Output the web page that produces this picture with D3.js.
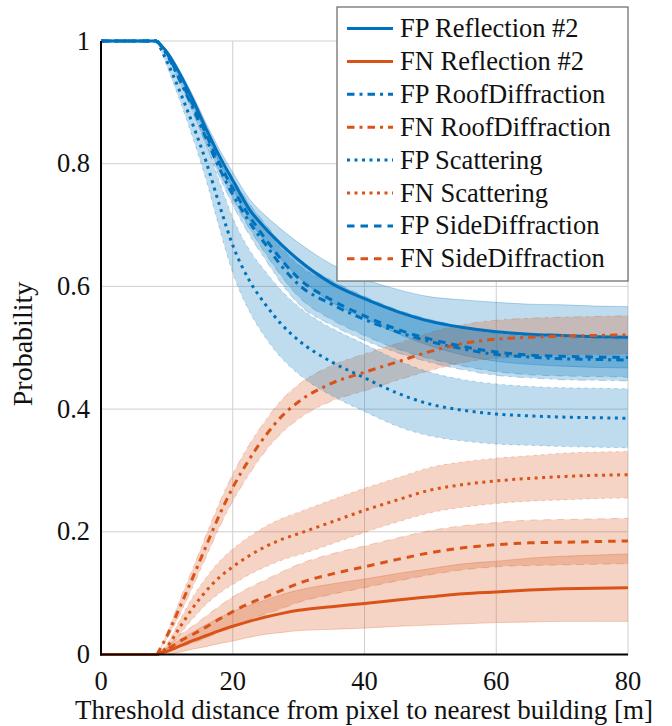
<!DOCTYPE html>
<html lang="en">
<head>
    <meta charset="UTF-8">
    <title>FP / FN probability</title>
    <script src="https://cdn.jsdelivr.net/npm/d3@7"></script>
    <style>
        body { margin: 0; background: #fff; }
    </style>
</head>
<body>
<script>
// threshold distance [m]
var xs = [0, 8.5, 10, 12, 14, 16, 18, 20, 22.5, 25, 27.5, 30, 35, 40, 45, 50, 55, 60, 65, 70, 75, 80];

// mean values
var fpReflection = [1, 1, 0.982, 0.946, 0.903, 0.856, 0.812, 0.773, 0.726, 0.694, 0.667, 0.643, 0.605, 0.580, 0.559, 0.543, 0.533, 0.526, 0.522, 0.520, 0.518, 0.517];
var fnReflection = [0, 0, 0.005, 0.014, 0.023, 0.031, 0.039, 0.046, 0.054, 0.061, 0.067, 0.072, 0.078, 0.083, 0.089, 0.094, 0.099, 0.102, 0.105, 0.107, 0.108, 0.109];
var fpRoof       = [1, 1, 0.978, 0.935, 0.890, 0.840, 0.792, 0.750, 0.705, 0.668, 0.632, 0.603, 0.571, 0.546, 0.526, 0.510, 0.498, 0.489, 0.485, 0.482, 0.481, 0.480];
var fnRoof       = [0, 0, 0.030, 0.078, 0.127, 0.178, 0.228, 0.272, 0.318, 0.357, 0.389, 0.412, 0.442, 0.460, 0.477, 0.494, 0.507, 0.514, 0.517, 0.519, 0.520, 0.521];
var fpScatter    = [1, 1, 0.967, 0.917, 0.862, 0.802, 0.732, 0.667, 0.610, 0.570, 0.537, 0.512, 0.477, 0.451, 0.426, 0.408, 0.398, 0.392, 0.389, 0.387, 0.386, 0.385];
var fnScatter    = [0, 0, 0.012, 0.045, 0.077, 0.104, 0.126, 0.143, 0.161, 0.176, 0.188, 0.197, 0.216, 0.235, 0.252, 0.268, 0.277, 0.283, 0.287, 0.290, 0.292, 0.293];
var fpSide       = [1, 1, 0.980, 0.938, 0.895, 0.847, 0.800, 0.760, 0.715, 0.677, 0.642, 0.613, 0.578, 0.552, 0.530, 0.514, 0.502, 0.493, 0.488, 0.486, 0.485, 0.484];
var fnSide       = [0, 0, 0.008, 0.022, 0.033, 0.045, 0.058, 0.070, 0.083, 0.094, 0.105, 0.116, 0.131, 0.143, 0.155, 0.166, 0.174, 0.179, 0.182, 0.183, 0.184, 0.185];

// spread (half width of the shaded band)
var fpReflectionSd = [0, 0, 0.003, 0.005, 0.007, 0.009, 0.011, 0.013, 0.017, 0.021, 0.025, 0.028, 0.031, 0.032, 0.036, 0.040, 0.045, 0.048, 0.049, 0.050, 0.050, 0.050];
var fnReflectionSd = [0, 0, 0.005, 0.010, 0.014, 0.018, 0.021, 0.024, 0.026, 0.028, 0.031, 0.033, 0.037, 0.040, 0.043, 0.046, 0.049, 0.050, 0.052, 0.053, 0.054, 0.055];
var fpRoofSd       = [0, 0, 0.003, 0.005, 0.008, 0.011, 0.014, 0.017, 0.021, 0.025, 0.029, 0.032, 0.034, 0.034, 0.034, 0.034, 0.034, 0.034, 0.034, 0.034, 0.034, 0.034];
var fnRoofSd       = [0, 0, 0.005, 0.012, 0.015, 0.018, 0.020, 0.022, 0.024, 0.025, 0.027, 0.028, 0.029, 0.030, 0.030, 0.031, 0.031, 0.031, 0.031, 0.031, 0.031, 0.031];
var fpScatterSd    = [0, 0, 0.008, 0.015, 0.022, 0.030, 0.038, 0.045, 0.050, 0.054, 0.055, 0.055, 0.055, 0.055, 0.054, 0.052, 0.050, 0.049, 0.048, 0.048, 0.048, 0.048];
var fnScatterSd    = [0, 0, 0.005, 0.012, 0.018, 0.022, 0.026, 0.029, 0.031, 0.033, 0.034, 0.035, 0.036, 0.036, 0.036, 0.037, 0.037, 0.037, 0.037, 0.038, 0.038, 0.038];
var fpSideSd       = [0, 0, 0.003, 0.005, 0.008, 0.011, 0.014, 0.017, 0.020, 0.024, 0.027, 0.030, 0.032, 0.032, 0.032, 0.032, 0.032, 0.032, 0.032, 0.032, 0.032, 0.032];
var fnSideSd       = [0, 0, 0.004, 0.010, 0.014, 0.018, 0.021, 0.024, 0.026, 0.028, 0.030, 0.031, 0.033, 0.034, 0.035, 0.036, 0.036, 0.036, 0.037, 0.037, 0.037, 0.037];

var xTicks = [0, 20, 40, 60, 80];
var yTicks = [0, 0.2, 0.4, 0.6, 0.8, 1];
var xTickLabels = ["0", "20", "40", "60", "80"];
var yTickLabels = ["0", "0.2", "0.4", "0.6", "0.8", "1"];
var kink = 8.5;

var blue = "#0072BD", orange = "#D95319";
var dashes = { solid: null, dashdot: "7.5,5,3,5", dotted: "3,4.5", dashed: "7.5,6" };
var serif = "Liberation Serif";

var series = [
    { name: "FP Reflection #2",   mean: fpReflection, sd: fpReflectionSd, color: blue,   dash: dashes.solid },
    { name: "FN Reflection #2",   mean: fnReflection, sd: fnReflectionSd, color: orange, dash: dashes.solid },
    { name: "FP RoofDiffraction", mean: fpRoof,       sd: fpRoofSd,       color: blue,   dash: dashes.dashdot },
    { name: "FN RoofDiffraction", mean: fnRoof,       sd: fnRoofSd,       color: orange, dash: dashes.dashdot },
    { name: "FP Scattering",      mean: fpScatter,    sd: fpScatterSd,    color: blue,   dash: dashes.dotted },
    { name: "FN Scattering",      mean: fnScatter,    sd: fnScatterSd,    color: orange, dash: dashes.dotted },
    { name: "FP SideDiffraction", mean: fpSide,       sd: fpSideSd,       color: blue,   dash: dashes.dashed },
    { name: "FN SideDiffraction", mean: fnSide,       sd: fnSideSd,       color: orange, dash: dashes.dashed }
];

var width = 672, height = 726;
var svg = d3.select("body").append("svg")
        .attr("width", width)
        .attr("height", height);

var x = d3.scaleLinear().domain([0, 80]).range([101, 628]);
var y = d3.scaleLinear().domain([0, 1]).range([654.5, 41]);

// grid
svg.append("g").selectAll("line").data(xTicks.slice(1)).enter().append("line")
        .attr("x1", function(d){ return x(d); }).attr("x2", function(d){ return x(d); })
        .attr("y1", y(0)).attr("y2", y(1))
        .attr("stroke", "#cfcfcf").attr("stroke-width", 1);
svg.append("g").selectAll("line").data(yTicks.slice(1)).enter().append("line")
        .attr("x1", x(0)).attr("x2", x(80))
        .attr("y1", function(d){ return y(d); }).attr("y2", function(d){ return y(d); })
        .attr("stroke", "#cfcfcf").attr("stroke-width", 1);

// flat part is straight, the rest is smooth
function split(s) {
    var pts = xs.map(function(v, i){ return { x: v, m: s.mean[i], s: s.sd[i] }; });
    return [pts.filter(function(p){ return p.x <= kink; }), pts.filter(function(p){ return p.x >= kink; })];
}
function twoPart(makeGen, parts) {
    return makeGen(d3.curveLinear)(parts[0]) + makeGen(d3.curveMonotoneX)(parts[1]);
}
var lineGen = function(c){ return d3.line().curve(c).x(function(p){ return x(p.x); }).y(function(p){ return y(p.m); }); };
var hiGen = function(c){ return d3.line().curve(c).x(function(p){ return x(p.x); }).y(function(p){ return y(p.m + p.s); }); };
var loGen = function(c){ return d3.line().curve(c).x(function(p){ return x(p.x); }).y(function(p){ return y(p.m - p.s); }); };
var areaGen = function(c){ return d3.area().curve(c).x(function(p){ return x(p.x); })
        .y0(function(p){ return y(p.m - p.s); }).y1(function(p){ return y(p.m + p.s); }); };

var plot = svg.append("g");

// bands
series.forEach(function(s){
    var parts = split(s);
    plot.append("path").attr("d", twoPart(areaGen, parts))
            .attr("fill", s.color).attr("fill-opacity", 0.25).attr("stroke", "none");
    [hiGen, loGen].forEach(function(g){
        plot.append("path").attr("d", twoPart(g, parts))
                .attr("fill", "none").attr("stroke", s.color)
                .attr("stroke-opacity", 0.35).attr("stroke-width", 0.8)
                .attr("stroke-dasharray", s.dash);
    });
});

// mean lines
series.forEach(function(s){
    plot.append("path").attr("d", twoPart(lineGen, split(s)))
            .attr("fill", "none").attr("stroke", s.color)
            .attr("stroke-width", 3).attr("stroke-dasharray", s.dash);
});

// axes
svg.append("line").attr("x1", x(0)).attr("x2", x(0)).attr("y1", y(1)).attr("y2", y(0) + 1)
        .attr("stroke", "#000").attr("stroke-width", 2);
svg.append("line").attr("x1", x(0) - 1).attr("x2", x(80)).attr("y1", y(0)).attr("y2", y(0))
        .attr("stroke", "#000").attr("stroke-width", 2);

svg.append("g").selectAll("text").data(xTicks).enter().append("text")
        .attr("x", function(d){ return x(d); }).attr("y", 690)
        .attr("text-anchor", "middle").attr("font-family", serif).attr("font-size", 26.5).attr("fill", "#111")
        .text(function(d, i){ return xTickLabels[i]; });
svg.append("g").selectAll("text").data(yTicks).enter().append("text")
        .attr("x", 90).attr("y", function(d){ return y(d) + 8.5; })
        .attr("text-anchor", "end").attr("font-family", serif).attr("font-size", 26.5).attr("fill", "#111")
        .text(function(d, i){ return yTickLabels[i]; });

svg.append("text").attr("x", 364).attr("y", 719)
        .attr("text-anchor", "middle").attr("font-family", serif).attr("font-size", 27).attr("fill", "#111")
        .text("Threshold distance from pixel to nearest building [m]");
svg.append("text").attr("transform", "translate(32,344) rotate(-90)")
        .attr("text-anchor", "middle").attr("font-family", serif).attr("font-size", 28).attr("fill", "#111")
        .text("Probability");

// legend
var lg = svg.append("g");
lg.append("rect").attr("x", 337).attr("y", 7).attr("width", 291).attr("height", 274)
        .attr("fill", "#fff").attr("stroke", "#666").attr("stroke-width", 1.2);
var rows = lg.selectAll("g.row").data(series).enter().append("g")
        .attr("transform", function(d, i){ return "translate(0," + (28.5 + i * 32.9) + ")"; });
rows.append("line").attr("x1", 347).attr("x2", 393).attr("y1", 0).attr("y2", 0)
        .attr("stroke", function(d){ return d.color; }).attr("stroke-width", 3)
        .attr("stroke-dasharray", function(d){ return d.dash; });
rows.append("text").attr("x", 400).attr("y", 8.5).attr("font-family", serif).attr("font-size", 26.5).attr("fill", "#111")
        .text(function(d){ return d.name; });
</script>
</body>
</html>
